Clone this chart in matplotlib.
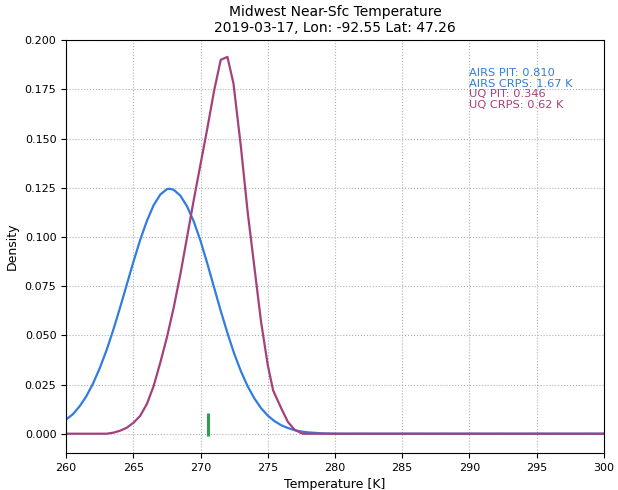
import numpy as np
import matplotlib
matplotlib.use('Agg')
import matplotlib.pyplot as plt

# AIRS density (blue)
airs_t = [260, 260.5, 261, 261.5, 262, 262.5, 263, 263.5, 264, 264.5, 265, 265.5,
          266, 266.5, 267, 267.5, 267.7, 268, 268.5, 269, 269.5, 270, 270.5, 271,
          271.5, 272, 272.5, 273, 273.5, 274, 274.5, 275, 275.5, 276, 276.5, 277,
          277.5, 278, 279, 280, 290, 300]
airs_d = [0.0072, 0.0099, 0.0139, 0.0190, 0.0255, 0.0333, 0.0423, 0.0526, 0.0638,
          0.0755, 0.0872, 0.0983, 0.108, 0.116, 0.1215, 0.1243, 0.1245, 0.1240,
          0.1210, 0.1155, 0.1078, 0.0980, 0.0866, 0.0745, 0.0625, 0.0512, 0.0408,
          0.0318, 0.0242, 0.0180, 0.0130, 0.0092, 0.0064, 0.0043, 0.0029, 0.0018,
          0.0011, 0.0007, 0.0002, 0.0, 0.0, 0.0]

# UQ density (purple)
uq_t = [260, 263, 263.5, 264, 264.5, 265, 265.5, 266, 266.5, 267, 267.5, 268, 268.5,
        269, 269.5, 270, 270.5, 271, 271.5, 272, 272.45, 273, 273.5, 274, 274.5,
        275, 275.4, 276, 276.5, 277, 277.6, 290, 300]
uq_d = [0.0, 0.0, 0.0005, 0.0015, 0.003, 0.0055, 0.009, 0.015, 0.024, 0.036, 0.049,
        0.064, 0.081, 0.100, 0.119, 0.137, 0.155, 0.174, 0.190, 0.1915, 0.178,
        0.146, 0.113, 0.085, 0.057, 0.035, 0.022, 0.013, 0.006, 0.002, 0.0, 0.0, 0.0]

truth_t = 270.56

airs_color = '#2f7de0'
uq_color = '#a4407c'

fig = plt.figure(figsize=(6.18, 4.9), dpi=100)
ax = fig.add_axes([0.107, 0.0755, 0.870, 0.8425])

ax.plot(airs_t, airs_d, color=airs_color, lw=1.6)
ax.plot(uq_t, uq_d, color=uq_color, lw=1.6)
ax.vlines(truth_t, -0.001, 0.0107, color='#2ca04c', lw=2.2)

stats = [('AIRS PIT: 0.810', airs_color, 0.1831),
         ('AIRS CRPS: 1.67 K', airs_color, 0.1777),
         ('UQ PIT: 0.346', uq_color, 0.1724),
         ('UQ CRPS: 0.62 K', uq_color, 0.1670)]
for s, c, yy in stats:
    ax.text(290, yy, s, color=c, fontsize=8.2, va='center')

ax.set_xlim(260, 300)
ax.set_ylim(-0.0098, 0.2)
ax.set_xticks(np.arange(260, 301, 5))
ax.set_yticks(np.arange(0, 0.2001, 0.025))
ax.tick_params(labelsize=8)
ax.grid(linestyle=':', color='#b0b0b0')
ax.set_xlabel('Temperature [K]', fontsize=9)
ax.set_ylabel('Density', fontsize=9)
ax.set_title('Midwest Near-Sfc Temperature\n2019-03-17, Lon: -92.55 Lat: 47.26', fontsize=10)

fig.savefig('out.png', dpi=100)
